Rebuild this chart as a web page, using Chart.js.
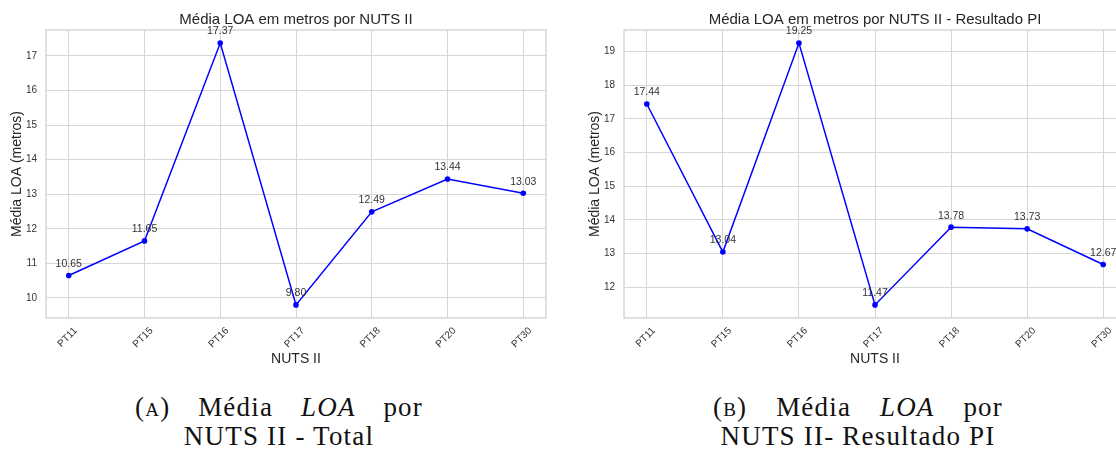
<!DOCTYPE html>
<html>
<head>
<meta charset="utf-8">
<script src="https://cdn.jsdelivr.net/npm/chart.js@4"></script>
<style>
  html, body { margin: 0; padding: 0; background: #fff; }
  #page { position: relative; width: 1116px; height: 449px; overflow: hidden; }
  canvas { position: absolute; top: 0; }
  #chartA { left: 0; }
  #chartB { left: 578px; }
  .cap { position: absolute; font-family: "Liberation Serif", "Times New Roman", serif; font-size: 27px; color: #111; letter-spacing: 1.2px; white-space: nowrap; line-height: 30px; }
  .line1 { display: flex; justify-content: space-between; }
  .sc { font-size: 19px; }
  .line2 { text-align: center; }
</style>
</head>
<body>
<div id="page">
  <canvas id="chartA" width="556" height="372"></canvas>
  <canvas id="chartB" width="558" height="372"></canvas>

  <div class="cap line1" style="left:135px; top:392px; width:288px;">
    <span>(<span class="sc">A</span>)</span><span>Média</span><i>LOA</i><span>por</span>
  </div>
  <div class="cap line2" style="left:135px; top:421px; width:288px;">NUTS II - Total</div>

  <div class="cap line1" style="left:713px; top:392px; width:290px;">
    <span>(<span class="sc">B</span>)</span><span>Média</span><i>LOA</i><span>por</span>
  </div>
  <div class="cap line2" style="left:713px; top:421px; width:290px;">NUTS II- Resultado PI</div>
</div>

<script>
var regions = ['PT11', 'PT15', 'PT16', 'PT17', 'PT18', 'PT20', 'PT30'];
var loaTotal = [10.65, 11.65, 17.37, 9.80, 12.49, 13.44, 13.03];
var loaPI = [17.44, 13.04, 19.25, 11.47, 13.78, 13.73, 12.67];

var titleTotal = 'Média LOA em metros por NUTS II';
var titlePI = 'Média LOA em metros por NUTS II - Resultado PI';
var yTitle = 'Média LOA (metros)';
var xTitle = 'NUTS II';

var FONT = '"Liberation Sans", Arial, sans-serif';
var GRID = '#d6d6d6';
var TEXT = '#333333';

// frame round the plot area, like seaborn whitegrid
var framePlugin = {
  id: 'frame',
  beforeDatasetsDraw: function(chart) {
    var a = chart.chartArea, c = chart.ctx;
    c.save();
    c.strokeStyle = GRID;
    c.lineWidth = 1.5;
    c.strokeRect(a.left, a.top, a.right - a.left, a.bottom - a.top);
    c.restore();
  }
};

// value labels above every point
var valueLabels = {
  id: 'valueLabels',
  afterDatasetsDraw: function(chart) {
    var c = chart.ctx;
    var meta = chart.getDatasetMeta(0);
    var ds = chart.data.datasets[0].data;
    c.save();
    c.font = '10.5px ' + FONT;
    c.fillStyle = TEXT;
    c.textAlign = 'center';
    c.textBaseline = 'middle';
    meta.data.forEach(function(pt, i) {
      c.fillText(ds[i].y.toFixed(2), pt.x, pt.y - 11.5);
    });
    c.restore();
  }
};

function buildChart(id, values, title) {
  var lo = Math.min.apply(null, values), hi = Math.max.apply(null, values);
  var pad = (hi - lo) * 0.05;

  new Chart(document.getElementById(id), {
    type: 'line',
    data: {
      datasets: [{
        data: values.map(function(v, i) { return { x: i, y: v }; }),
        borderColor: '#0000ff',
        backgroundColor: '#0000ff',
        borderWidth: 1.5,
        pointRadius: 2.8,
        pointBorderWidth: 0,
        pointBackgroundColor: '#0000ff',
        tension: 0,
        clip: false
      }]
    },
    options: {
      responsive: false,
      animation: false,
      devicePixelRatio: 1,
      layout: { padding: { left: 0, right: 10, top: 0, bottom: 0 } },
      plugins: {
        legend: { display: false },
        tooltip: { enabled: false },
        title: {
          display: true,
          text: title,
          fullSize: false,
          color: '#262626',
          font: { family: FONT, size: 15, weight: 'normal' },
          padding: { top: 11, bottom: 1 }
        }
      },
      scales: {
        x: {
          type: 'linear',
          min: -0.3,
          max: regions.length - 1 + 0.3,
          afterFit: function(s) { s.height = 54; },
          grid: { color: GRID, lineWidth: 1, drawTicks: false },
          border: { display: false },
          ticks: {
            stepSize: 1,
            includeBounds: false,
            autoSkip: false,
            maxRotation: 45,
            minRotation: 45,
            labelOffset: 7,
            padding: 7,
            color: TEXT,
            font: { family: FONT, size: 10 },
            callback: function(v) { return regions[v] || ''; }
          },
          title: {
            display: true,
            text: xTitle,
            color: '#262626',
            font: { family: FONT, size: 14 },
            padding: { top: 0, bottom: 4 }
          }
        },
        y: {
          min: lo - pad,
          max: hi + pad,
          afterFit: function(s) { s.width = 46; },
          grid: { color: GRID, lineWidth: 1, drawTicks: false },
          border: { display: false },
          ticks: {
            stepSize: 1,
            includeBounds: false,
            padding: 9,
            color: TEXT,
            font: { family: FONT, size: 10 }
          },
          title: {
            display: true,
            text: yTitle,
            color: '#262626',
            font: { family: FONT, size: 14 },
            padding: { top: 9, bottom: 0 }
          }
        }
      }
    },
    plugins: [framePlugin, valueLabels]
  });
}

buildChart('chartA', loaTotal, titleTotal);
buildChart('chartB', loaPI, titlePI);
</script>
</body>
</html>
